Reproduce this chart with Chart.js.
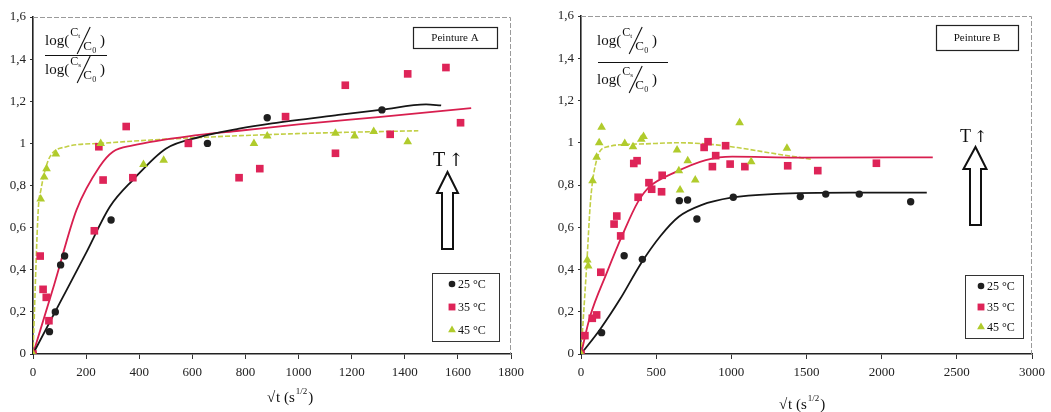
<!DOCTYPE html>
<html><head><meta charset="utf-8">
<script src="https://cdn.jsdelivr.net/npm/chart.js@4"></script>
<style>
html,body{margin:0;padding:0;background:#fff;}
#w{position:relative;width:1051px;height:412px;overflow:hidden;}
canvas{position:absolute;top:0;}
</style></head>
<body><div id="w">
<canvas id="c1" width="530" height="412" style="left:0;width:530px;height:412px"></canvas>
<canvas id="c2" width="521" height="412" style="left:530px;width:521px;height:412px"></canvas>
</div>
<script>
// ---------- data ----------
const seriesNames = ['25 °C', '35 °C', '45 °C'];
const yTickValues = [0, 0.2, 0.4, 0.6, 0.8, 1, 1.2, 1.4, 1.6];
const yTickLabels = ['0', '0,2', '0,4', '0,6', '0,8', '1', '1,2', '1,4', '1,6'];
const xTicksA = [0, 200, 400, 600, 800, 1000, 1200, 1400, 1600, 1800];
const xTicksB = [0, 500, 1000, 1500, 2000, 2500, 3000];

// Peinture A measured points
const ptsA25 = [[0,0],[62,0.106],[84,0.2],[104,0.423],[119,0.465],[294,0.636],[657,1.0],[882,1.122],[1314,1.159]];
const ptsA35 = [[0,0],[27,0.465],[38,0.307],[50,0.269],[60,0.158],[231,0.585],[248,0.984],[264,0.826],[351,1.08],[376,0.837],[585,1.0],[776,0.837],[854,0.88],[951,1.127],[1139,0.953],[1176,1.276],[1345,1.043],[1411,1.33],[1555,1.36],[1610,1.098]];
const ptsA45 = [[0,0],[29,0.736],[42,0.84],[51,0.88],[86,0.95],[255,1.0],[416,0.9],[492,0.92],[832,1.0],[882,1.035],[1139,1.048],[1211,1.035],[1283,1.056],[1411,1.008]];
// Peinture A fitted curves
const fitA25 = [[0,0],[100,0.24],[200,0.48],[290,0.70],[376,0.826],[500,0.975],[626,1.03],[776,1.07],[900,1.095],[1150,1.135],[1314,1.16],[1480,1.185],[1537,1.18]];
const fitA35 = [[0,0],[80,0.33],[164,0.684],[251,0.89],[301,0.96],[376,0.99],[626,1.04],[776,1.06],[1000,1.09],[1300,1.125],[1650,1.167]];
const fitA45 = [[0,0],[20,0.69],[30,0.78],[45,0.87],[64,0.937],[126,0.984],[251,1.0],[500,1.02],[851,1.04],[1100,1.05],[1451,1.06]];

// Peinture B measured points
const ptsB25 = [[0,0],[137,0.101],[287,0.465],[408,0.448],[654,0.726],[709,0.729],[771,0.639],[1013,0.742],[1459,0.745],[1628,0.757],[1851,0.757],[2193,0.721]];
const ptsB35 = [[0,0],[26,0.087],[75,0.169],[104,0.185],[132,0.387],[220,0.615],[238,0.653],[264,0.559],[351,0.902],[373,0.915],[380,0.742],[452,0.811],[470,0.78],[536,0.768],[540,0.846],[819,0.978],[845,1.005],[874,0.887],[896,0.939],[962,0.986],[992,0.899],[1090,0.887],[1375,0.891],[1575,0.868],[1965,0.903]];
const ptsB45 = [[0,0],[42,0.445],[48,0.417],[77,0.82],[104,0.931],[121,1.0],[137,1.073],[291,0.997],[346,0.981],[401,1.016],[416,1.029],[639,0.966],[651,0.868],[659,0.776],[710,0.915],[760,0.824],[1055,1.095],[1132,0.91],[1370,0.974]];
// Peinture B fitted curves
const fitB25 = [[0,0],[130,0.12],[260,0.26],[400,0.43],[530,0.56],[650,0.65],[800,0.705],[1000,0.74],[1300,0.758],[1800,0.764],[2300,0.764]];
const fitB35 = [[0,0],[60,0.177],[170,0.382],[280,0.571],[379,0.72],[456,0.792],[610,0.855],[830,0.918],[1006,0.934],[1446,0.93],[2340,0.931]];
const fitB45 = [[0,0],[37,0.41],[64,0.73],[104,0.918],[170,0.98],[390,0.994],[654,1.0],[900,0.99],[1051,0.976],[1249,0.953],[1536,0.921]];

// ---------- styles ----------
const FONT = '"Liberation Serif", "DejaVu Serif", serif';
const colDark = '#1f1f1f', colRed = '#de2458', colGreen = '#b0cb2c';
const lineCols = ['#161616', '#d81f4f', '#c2cf45'];
const markerCols = [colDark, colRed, colGreen];
const markerStyles = ['circle', 'rect', 'triangle'];
const markerRadius = [3.7, 5.4, 5];

const toXY = a => a.map(p => ({x: p[0], y: p[1]}));

function fitDs(arr, i) {
  return {data: toXY(arr), showLine: true, pointRadius: 0, borderColor: lineCols[i],
    borderWidth: i === 2 ? 1.6 : 1.8, borderDash: i === 2 ? [5, 2] : [], fill: false,
    cubicInterpolationMode: 'monotone', order: 5};
}
function ptDs(arr, i) {
  return {data: toXY(arr), showLine: false, pointStyle: markerStyles[i], pointRadius: markerRadius[i],
    backgroundColor: markerCols[i], borderColor: markerCols[i], borderWidth: 0, order: 3 - i};
}

function drawMarker(ctx, style, x, y, r, col) {
  ctx.save(); ctx.fillStyle = col; ctx.beginPath();
  if (style === 'circle') ctx.arc(x, y, r, 0, Math.PI * 2);
  else if (style === 'rect') { const s = r * Math.SQRT1_2; ctx.rect(x - s, y - s, 2 * s, 2 * s); }
  else { ctx.moveTo(x, y - r); ctx.lineTo(x + r * 0.87, y + r * 0.5); ctx.lineTo(x - r * 0.87, y + r * 0.5); ctx.closePath(); }
  ctx.fill(); ctx.restore();
}

function drawRow(ctx, x0, b, sub) {
  ctx.font = '15px ' + FONT; ctx.textAlign = 'left'; ctx.textBaseline = 'alphabetic';
  ctx.fillText('log(', x0, b);
  const w = ctx.measureText('log(').width + 1;
  ctx.font = '12px ' + FONT; ctx.fillText('C', x0 + w, b - 9);
  ctx.font = '7px ' + FONT; ctx.fillText(sub, x0 + w + 8, b - 7);
  ctx.beginPath(); ctx.lineWidth = 1.1; ctx.moveTo(x0 + w + 7, b + 9); ctx.lineTo(x0 + w + 20, b - 18); ctx.stroke();
  ctx.font = '13px ' + FONT; ctx.fillText('C', x0 + w + 13, b + 5);
  ctx.font = '8px ' + FONT; ctx.fillText('0', x0 + w + 22, b + 8);
  ctx.font = '15px ' + FONT; ctx.fillText(')', x0 + 55, b);
}

function deco(cfg) {
  return {
    id: 'deco' + cfg.off,
    beforeDatasetsDraw(chart) {
      const ctx = chart.ctx, a = chart.chartArea;
      ctx.save(); ctx.strokeStyle = '#9a9a9a'; ctx.lineWidth = 1; ctx.setLineDash([5, 2]);
      ctx.beginPath(); ctx.moveTo(a.left, a.top + 0.5); ctx.lineTo(a.right - 0.5, a.top + 0.5); ctx.lineTo(a.right - 0.5, a.bottom); ctx.stroke();
      ctx.restore();
    },
    afterDraw(chart) {
      const ctx = chart.ctx, o = cfg.off;
      ctx.save(); ctx.translate(-o, 0);
      ctx.fillStyle = '#111'; ctx.strokeStyle = '#111';
      // y-axis formula
      const f = cfg.formula;
      drawRow(ctx, f.x0, f.top, 't');
      ctx.beginPath(); ctx.lineWidth = 1; ctx.moveTo(f.lx1, f.ly + 0.5); ctx.lineTo(f.lx2, f.ly + 0.5); ctx.stroke();
      drawRow(ctx, f.x0, f.bot, 's');
      // title box
      const t = cfg.box;
      ctx.lineWidth = 1.2; ctx.strokeStyle = '#222';
      ctx.strokeRect(t.x + 0.5, t.y + 0.5, t.w, t.h);
      ctx.font = '11px ' + FONT; ctx.textAlign = 'center'; ctx.textBaseline = 'middle'; ctx.fillStyle = '#111';
      ctx.fillText(t.text, t.x + t.w / 2, t.y + t.h / 2 + 1);
      // T arrow text
      const ar = cfg.arrow;
      ctx.textAlign = 'left'; ctx.textBaseline = 'alphabetic';
      ctx.font = ar.fs + 'px ' + FONT; ctx.fillText('T', ar.tx, ar.ty);
      ctx.font = (ar.fs - 2) + 'px "DejaVu Serif", serif'; ctx.fillText('↑', ar.tx + ar.fs * 0.78, ar.ty);
      // hollow arrow
      ctx.lineWidth = 2; ctx.strokeStyle = '#111';
      ctx.beginPath();
      ctx.moveTo(ar.ax, ar.ay);
      ctx.lineTo(ar.hx2, ar.hy);
      ctx.lineTo(ar.sx2, ar.hy);
      ctx.lineTo(ar.sx2, ar.by);
      ctx.lineTo(ar.sx1, ar.by);
      ctx.lineTo(ar.sx1, ar.hy);
      ctx.lineTo(ar.hx1, ar.hy);
      ctx.closePath(); ctx.stroke();
      // legend
      const lg = cfg.legend;
      ctx.lineWidth = 1; ctx.strokeStyle = '#333';
      ctx.strokeRect(lg.x + 0.5, lg.y + 0.5, lg.w, lg.h);
      ctx.font = '12px ' + FONT; ctx.fillStyle = '#111';
      for (let i = 0; i < 3; i++) {
        drawMarker(ctx, markerStyles[i], lg.sx, lg.ys[i], markerRadius[i] * 0.9, markerCols[i]);
        ctx.fillStyle = '#111';
        ctx.fillText(seriesNames[i], lg.tx, lg.ys[i] + 4);
      }
      // x-axis title
      const xt = cfg.xtitle;
      ctx.font = 'italic 15px ' + FONT; ctx.fillText('√', xt.x, xt.y);
      let x = xt.x + 9;
      ctx.font = '15px ' + FONT; ctx.fillText('t (s', x, xt.y); x += ctx.measureText('t (s').width;
      ctx.font = '9px ' + FONT; ctx.fillText('1/2', x + 1, xt.y - 8); x += ctx.measureText('1/2').width + 2;
      ctx.font = '15px ' + FONT; ctx.fillText(')', x, xt.y);
      ctx.restore();
    }
  };
}

function makeChart(id, cfg) {
  const tickFont = {family: FONT, size: 13};
  return new Chart(document.getElementById(id), {
    type: 'scatter',
    data: {datasets: [
      fitDs(cfg.fits[0], 0), fitDs(cfg.fits[1], 1), fitDs(cfg.fits[2], 2),
      ptDs(cfg.pts[0], 0), ptDs(cfg.pts[1], 1), ptDs(cfg.pts[2], 2)
    ]},
    options: {
      responsive: false, animation: false, devicePixelRatio: 1,
      layout: {padding: {left: 0, right: cfg.padR, top: cfg.padT, bottom: 0}},
      plugins: {legend: {display: false}, tooltip: {enabled: false}},
      scales: {
        x: {type: 'linear', min: 0, max: cfg.xTicks[cfg.xTicks.length - 1],
          afterBuildTicks: s => { s.ticks = cfg.xTicks.map(v => ({value: v})); },
          afterFit: s => { s.height = 58; },
          grid: {display: true, drawOnChartArea: false, drawTicks: true, tickLength: 5, color: '#333', lineWidth: 1},
          border: {display: true, color: '#222', width: 1.6},
          ticks: {font: tickFont, color: '#222', padding: 6, maxRotation: 0, autoSkip: false,
            callback: v => String(v)}},
        y: {type: 'linear', min: 0, max: 1.6,
          afterBuildTicks: s => { s.ticks = yTickValues.map(v => ({value: v})); },
          afterFit: s => { s.width = cfg.yW; },
          grid: {display: true, drawOnChartArea: false, drawTicks: true, tickLength: 3, color: '#333', lineWidth: 1},
          border: {display: true, color: '#222', width: 1.6},
          ticks: {font: tickFont, color: '#222', padding: 4, autoSkip: false,
            callback: (v) => yTickLabels[yTickValues.findIndex(t => Math.abs(t - v) < 1e-6)]}}
      }
    },
    plugins: [deco(cfg)]
  });
}

makeChart('c1', {
  off: 0, padR: 17, padT: 17, yW: 33, xTicks: xTicksA,
  fits: [fitA25, fitA35, fitA45], pts: [ptsA25, ptsA35, ptsA45],
  formula: {x0: 45, top: 45, ly: 55, bot: 74, lx1: 45, lx2: 107},
  box: {x: 413, y: 27, w: 84, h: 21, text: 'Peinture A'},
  arrow: {tx: 433, ty: 166, fs: 20, ax: 447.5, ay: 172, hx1: 437, hx2: 458, hy: 193, sx1: 442, sx2: 453, by: 249},
  legend: {x: 432, y: 273, w: 67, h: 68, sx: 452, tx: 458, ys: [284, 307, 330]},
  xtitle: {x: 267, y: 402}
});
makeChart('c2', {
  off: 530, padR: 16, padT: 16, yW: 51, xTicks: xTicksB,
  fits: [fitB25, fitB35, fitB45], pts: [ptsB25, ptsB35, ptsB45],
  formula: {x0: 597, top: 45, ly: 62, bot: 84, lx1: 598, lx2: 668},
  box: {x: 936, y: 25, w: 82, h: 25, text: 'Peinture B'},
  arrow: {tx: 960, ty: 142, fs: 18, ax: 975.5, ay: 147, hx1: 963.5, hx2: 986.5, hy: 169, sx1: 970, sx2: 981, by: 225},
  legend: {x: 965, y: 275, w: 58, h: 63, sx: 981, tx: 987, ys: [286, 307, 327]},
  xtitle: {x: 779, y: 409}
});
</script>
</body></html>
